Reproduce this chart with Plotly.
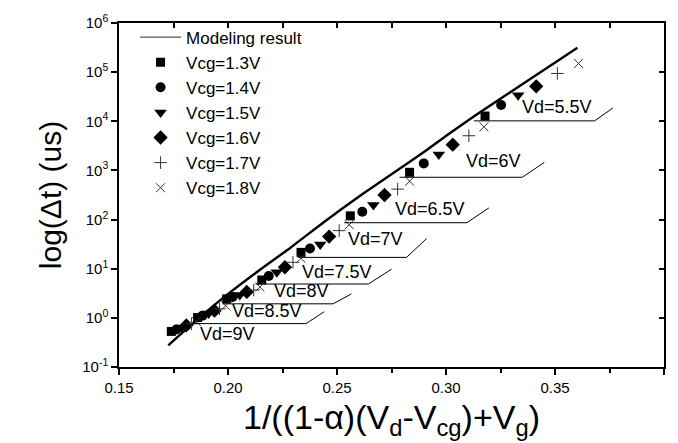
import numpy as np
import plotly.graph_objects as go

# ---- measured data -------------------------------------------------------
# x = 1/((1-a)(Vd-Vcg)+Vg), one row per drain voltage Vd = 9 ... 5.5 V
vd_levels = ["9", "8.5", "8", "7.5", "7", "6.5", "6", "5.5"]
vcg_names = ["Vcg=1.3V", "Vcg=1.4V", "Vcg=1.5V", "Vcg=1.6V", "Vcg=1.7V", "Vcg=1.8V"]

# rows: Vd (9 -> 5.5), columns: Vcg (1.3 -> 1.8)
x_meas = [
    [0.1740, 0.1763, 0.1786, 0.1809, 0.1832, 0.1855],
    [0.1860, 0.1883, 0.1911, 0.1938, 0.1961, 0.1989],
    [0.1994, 0.2021, 0.2054, 0.2086, 0.2118, 0.2146],
    [0.2155, 0.2187, 0.2224, 0.2261, 0.2298, 0.2335],
    [0.2335, 0.2376, 0.2423, 0.2464, 0.2510, 0.2556],
    [0.2561, 0.2616, 0.2667, 0.2718, 0.2778, 0.2833],
    [0.2833, 0.2898, 0.2967, 0.3031, 0.3105, 0.3174],
    [0.3179, 0.3253, 0.3331, 0.3414, 0.3511, 0.3608],
]
dt_meas = [
    [0.53, 0.58, 0.64, 0.70, 0.76, 0.84],
    [1.01, 1.11, 1.22, 1.40, 1.53, 1.76],
    [2.43, 2.67, 2.93, 3.37, 3.69, 4.25],
    [5.9, 7.1, 8.5, 10.7, 13.5, 16.3],
    [21.5, 25.8, 31.1, 45.1, 59.6, 78.5],
    [119, 144, 199, 316, 417, 604],
    [916, 1390, 2110, 3350, 5080, 7710],
    [12800, 21400, 34000, 51500, 94000, 150000],
]

# modeling result
x_model = [0.1726, 0.1874, 0.2012, 0.2150, 0.2288, 0.2436, 0.2598, 0.2750,
           0.2902, 0.3027, 0.3151, 0.3350, 0.3603]
dt_model = [0.276, 1.06, 3.37, 9.77, 27.1, 86.3, 288, 835,
            2420, 6120, 14800, 56600, 314000]

# y tick labels
y_tick_vals = [0.1, 1, 10, 100, 1e3, 1e4, 1e5, 1e6]
y_tick_text = ["10<sup>-1</sup>", "10<sup>0</sup>", "10<sup>1</sup>", "10<sup>2</sup>",
               "10<sup>3</sup>", "10<sup>4</sup>", "10<sup>5</sup>", "10<sup>6</sup>"]

# Vd labels: text centre (x, dt) and leader line (start x, end x, level dt, tip x, tip dt)
vd_text = ["Vd=9V", "Vd=8.5V", "Vd=8V", "Vd=7.5V", "Vd=7V", "Vd=6.5V", "Vd=6V", "Vd=5.5V"]
vd_text_x = [0.1998, 0.2178, 0.2335, 0.2501, 0.2676, 0.2925, 0.3220, 0.3511]
vd_text_dt = [0.48, 1.40, 3.52, 8.50, 41.0, 165, 1530, 19400]
lead_x0 = [None, 0.1841, 0.1975, 0.2127, 0.2321, 0.2533, 0.2787, 0.3128]
lead_x1 = [None, 0.2358, 0.2482, 0.2644, 0.2819, 0.3096, 0.3350, 0.3682]
lead_dt = [None, 0.764, 1.93, 4.88, 17.0, 86.3, 726, 10200]
lead_tx = [None, 0.2441, 0.2566, 0.2750, 0.2911, 0.3197, 0.3451, 0.3765]
lead_tdt = [None, 1.33, 3.07, 9.77, 41.1, 173, 1456, 18600]

# ---- styling -------------------------------------------------------------
FONT = "Arial"
symbols = ["square", "circle", "triangle-down", "diamond", "cross-thin-open", "x-thin-open"]
sizes = [9, 10, 11, 11, 9, 9]

fig = go.Figure()

# model curve (drawn thick); the legend sample comes from a thin stub trace
fig.add_trace(go.Scatter(x=x_model, y=dt_model, mode="lines",
                         line=dict(color="black", width=2.4, shape="spline", smoothing=0.6),
                         showlegend=False, hoverinfo="skip"))
fig.add_trace(go.Scatter(x=[None], y=[None], mode="lines", name="Modeling result",
                         line=dict(color="#555555", width=1.2)))

for j, name in enumerate(vcg_names):
    xs = [row[j] for row in x_meas]
    ys = [row[j] for row in dt_meas]
    thin = symbols[j].endswith("open")
    fig.add_trace(go.Scatter(
        x=xs, y=ys, mode="markers", name=name,
        marker=dict(symbol=symbols[j], size=sizes[j],
                    color="#333333" if thin else "black",
                    line=dict(color="#333333" if thin else "black",
                              width=1 if thin else 0)),
    ))

# leader lines under the Vd labels
for i in range(len(vd_text)):
    if lead_x0[i] is None:
        continue
    fig.add_trace(go.Scatter(
        x=[lead_x0[i], lead_x1[i], lead_tx[i]],
        y=[lead_dt[i], lead_dt[i], lead_tdt[i]],
        mode="lines", line=dict(color="black", width=1),
        showlegend=False, hoverinfo="skip"))

# mirrored frame axes (top / right) with inward ticks
fig.add_trace(go.Scatter(x=[None], y=[None], xaxis="x2", yaxis="y2",
                         showlegend=False, hoverinfo="skip"))

for i, t in enumerate(vd_text):
    fig.add_annotation(x=vd_text_x[i], y=np.log10(vd_text_dt[i]), text=t,
                       showarrow=False, xanchor="center", yanchor="middle",
                       font=dict(family=FONT, size=18, color="black"))

axis_common = dict(showgrid=False, zeroline=False, linecolor="black", linewidth=1.5,
                   tickcolor="black", tickwidth=1.5, showline=True)

fig.update_layout(
    width=678, height=443,
    margin=dict(l=119, r=14, t=19, b=76),
    paper_bgcolor="white", plot_bgcolor="white",
    font=dict(family=FONT, color="black"),
    xaxis=dict(range=[0.15, 0.40], dtick=0.05, tickformat=".2f", ticks="outside",
               ticklen=6, tickfont=dict(size=15),
               minor=dict(dtick=0.025, ticks="outside", ticklen=4,
                          tickcolor="black", tickwidth=1.5),
               title=dict(text="1/((1-α)(V<sub>d</sub>-V<sub>cg</sub>)+V<sub>g</sub>)",
                          font=dict(size=34), standoff=10),
               **axis_common),
    yaxis=dict(type="log", range=[-1, 6], tickvals=y_tick_vals, ticktext=y_tick_text,
               ticks="outside", ticklen=6, tickfont=dict(size=15),
               title=dict(text="log(Δt) (us)", font=dict(size=30), standoff=12),
               **axis_common),
    xaxis2=dict(range=[0.15, 0.40], overlaying="x", side="top", anchor="y",
                dtick=0.025, ticks="inside", ticklen=5, showticklabels=False,
                **axis_common),
    yaxis2=dict(type="log", range=[-1, 6], dtick=1, overlaying="y", side="right",
                anchor="x", ticks="inside", ticklen=5, showticklabels=False,
                **axis_common),
    legend=dict(x=0.0295, y=1.01, xanchor="left", yanchor="top",
                bgcolor="rgba(0,0,0,0)", borderwidth=0,
                font=dict(size=17, family=FONT), itemwidth=41, tracegroupgap=0),
    showlegend=True,
)

fig.write_html("out.html")
